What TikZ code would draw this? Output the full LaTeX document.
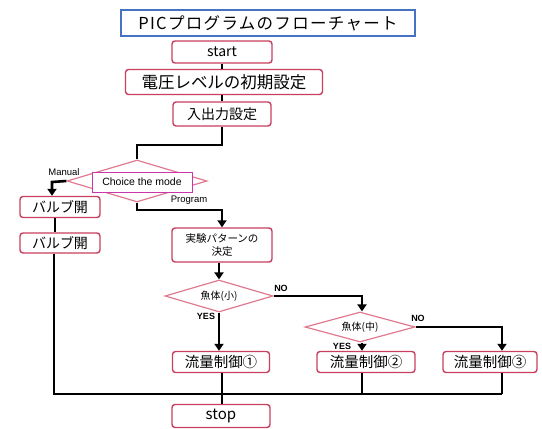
\documentclass[tikz,border=0pt]{standalone}
\usepackage{fontspec}
\setmainfont{Noto Sans CJK JP}
\newfontfamily\lat{Liberation Sans}
\newfontfamily\titlefont[LetterSpace=8]{Noto Sans CJK JP}
\usetikzlibrary{arrows.meta,shapes.geometric}
\definecolor{boxred}{HTML}{C8405E}
\definecolor{dpink}{HTML}{E07A90}
\definecolor{titleblue}{HTML}{4472C4}
\definecolor{cmag}{HTML}{C838A8}
\tikzset{
  pbox/.style={draw=boxred,line width=1.4pt,rounded corners=3pt,fill=white,inner sep=1pt,align=center},
  dia/.style={diamond,draw=dpink,line width=1.2pt,fill=white,inner sep=0pt,aspect=3},
  conn/.style={line width=2.6pt,black},
  arr/.style={conn,-{Triangle[width=9pt,length=7pt]}},
  lab/.style={font=\lat\fontsize{9.5}{10}\selectfont,inner sep=0pt},
  yn/.style={font=\lat\bfseries\fontsize{9}{9}\selectfont,inner sep=0pt}
}
\begin{document}
\begin{tikzpicture}[x=1pt,y=-1pt]
\useasboundingbox[fill=white] (0,0) rectangle (542,429);
% title
\node[draw=titleblue,line width=1.2pt,minimum width=294pt,minimum height=26pt,inner sep=0pt,
      font=\titlefont\fontsize{16.5}{16.5}\selectfont] (title) at (268,23) {PICプログラムのフローチャート};
% boxes
\node[pbox,minimum width=100pt,minimum height=22pt,font=\fontsize{14}{14}\selectfont] (start) at (222,52) {start};
\node[pbox,minimum width=197pt,minimum height=25pt,font=\fontsize{16.5}{16.5}\selectfont] (volt) at (224,82) {電圧レベルの初期設定};
\node[pbox,minimum width=98pt,minimum height=24pt,font=\fontsize{14}{14}\selectfont] (io) at (222,114) {入出力設定};
\node[dia,minimum width=140pt,minimum height=42pt] (mode) at (137,181) {};
\node[draw=cmag,line width=1pt,fill=white,minimum width=100pt,minimum height=20pt,inner sep=0pt,
      font=\lat\fontsize{10.5}{11}\selectfont] (choice) at (142,182) {Choice the mode};
\node[lab] (manual) at (64,172) {Manual};
\node[lab] (program) at (189,200) {Program};
\node[pbox,minimum width=80pt,minimum height=21pt,font=\fontsize{14}{14}\selectfont] (v1) at (60,207) {バルブ開};
\node[pbox,minimum width=80pt,minimum height=20pt,font=\fontsize{14}{14}\selectfont] (v2) at (60,243) {バルブ開};
\node[pbox,minimum width=100pt,minimum height=34pt,font=\fontsize{10.5}{13}\selectfont] (exp) at (222,245) {実験パターンの\\決定};
\node[dia,minimum width=108pt,minimum height=32pt,font=\fontsize{10}{10}\selectfont] (d1) at (219,296) {魚体(小)};
\node[dia,minimum width=110pt,minimum height=30pt,font=\fontsize{10}{10}\selectfont] (d2) at (360,327) {魚体(中)};
\node[pbox,minimum width=97pt,minimum height=21pt,font=\fontsize{14.5}{14.5}\selectfont] (f1) at (221,362) {流量制御①};
\node[pbox,minimum width=98pt,minimum height=21pt,font=\fontsize{14.5}{14.5}\selectfont] (f2) at (366,362) {流量制御②};
\node[pbox,minimum width=94pt,minimum height=21pt,font=\fontsize{14.5}{14.5}\selectfont] (f3) at (490,362) {流量制御③};
\node[pbox,minimum width=98pt,minimum height=23pt,font=\fontsize{15}{15}\selectfont] (stop) at (221,416) {stop};
% labels
\node[yn] (no1) at (281,288) {NO};
\node[yn] (no2) at (418,318) {NO};
\node[yn] (yes1) at (206,316) {YES};
\node[yn] (yes2) at (342,346) {YES};
% coordinates
\coordinate (c1) at (222,145);
\coordinate (c2) at (137,145);
\coordinate (m1) at (52,182);
\coordinate (p1) at (137,210);
\coordinate (p2) at (222,210);
\coordinate (b0) at (54,394);
\coordinate (b1) at (222,394);
\coordinate (b2) at (362,394);
\coordinate (b3) at (502,394);
\coordinate (n1) at (362,296);
\coordinate (n2) at (502,327);
% connectors
\draw[conn] (start.south) -- (volt.north -| start.south);
\draw[conn] (volt.south -| start.south) -- (io.north);
\draw[conn] (io.south) -- (c1) -- (c2) -- (mode.north);
\draw[arr] (mode.west) -- (m1) -- (m1 |- v1.north);
\draw[conn] (v1.south -| 55,0) -- (v2.north -| 55,0);
\draw[conn] (v2.south -| b0) -- (b0) -- (b3);
\draw[arr] (mode.south) -- (p1) -- (p2) -- (exp.north -| p2);
\draw[arr] (exp.south -| d1.north) -- (d1.north);
\draw[arr] (d1.east) -- (n1) -- (d2.north -| n1);
\draw[arr] (d1.south) -- (f1.north -| d1.south);
\draw[arr] (d2.south -| n1) -- (f2.north -| n1);
\draw[arr] (d2.east) -- (n2) -- (f3.north -| n2);
\draw[conn] (f1.south -| b1) -- (b1) -- (stop.north -| b1);
\draw[conn] (f2.south -| b2) -- (b2);
\draw[conn] (f3.south -| b3) -- (b3);
\end{tikzpicture}
\end{document}
